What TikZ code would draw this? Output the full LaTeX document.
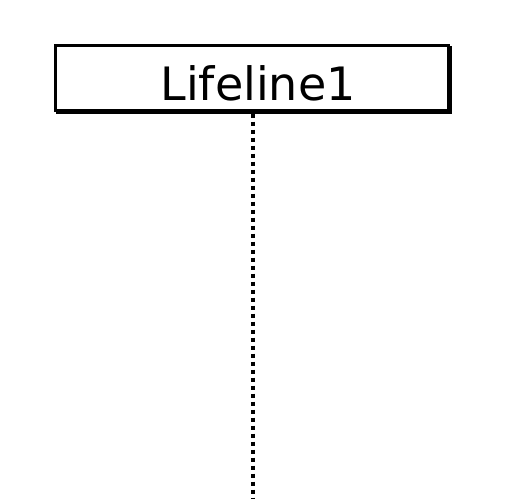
\documentclass[tikz,border=0pt]{standalone}
\usepackage{fontspec}
\setmainfont{DejaVu Sans}
\begin{document}
\begin{tikzpicture}[x=1pt,y=-1pt,
  lifebox/.style={draw=black,line width=3pt,fill=white,minimum width=393pt,minimum height=65pt,inner sep=0pt},
  boxtext/.style={inner sep=0pt,anchor=base,font=\fontsize{46}{50}\selectfont},
  lifeline/.style={line width=4pt,dash pattern=on 4pt off 4pt}]
\useasboundingbox (0,0) rectangle (513,498);
\fill[black] (56,46) rectangle (452,114);
\node[lifebox] (ll) at (252,78) {};
\node[boxtext] (lt) at (258,100) {Lifeline1};
\coordinate (end) at (253,498);
\draw[lifeline] (ll.south -| end) ++(0,1.5) -- (end);
\end{tikzpicture}
\end{document}
